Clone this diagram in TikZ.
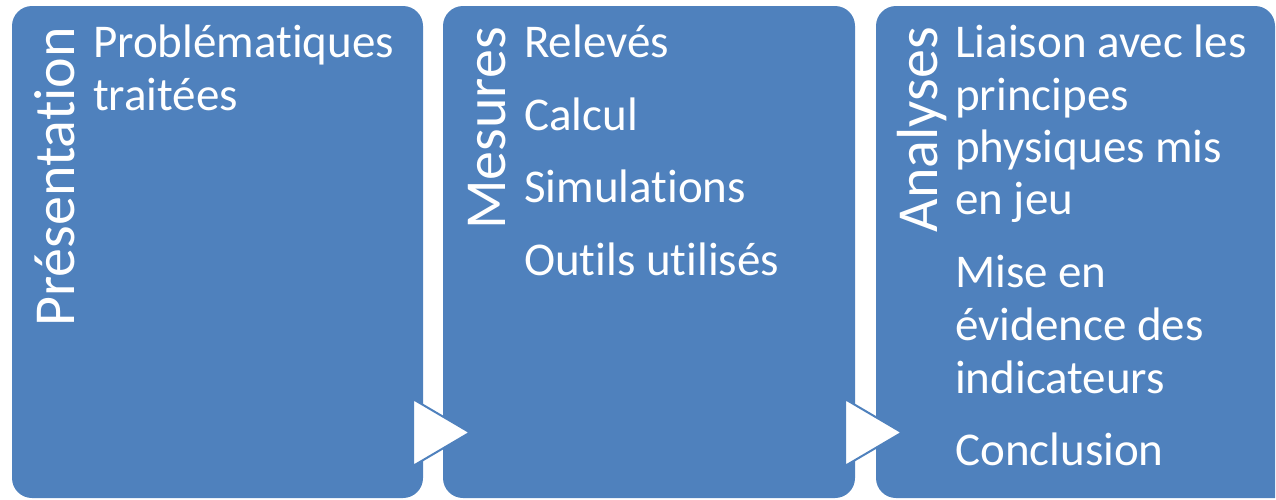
\documentclass[tikz,border=0pt]{standalone}
\usepackage{fontspec}
\setmainfont{Carlito}[Ligatures=NoCommon]
\usepackage{tikz}

\definecolor{phaseblue}{RGB}{79,129,189}
\tikzset{
  phase/.style={fill=phaseblue, rounded corners=20pt},
  phasetitle/.style={text=white, font=\fontsize{58}{70}\selectfont, rotate=90, anchor=base east, inner sep=0pt},
  phaseitem/.style={text=white, font=\fontsize{47}{53}\selectfont, anchor=base west, inner sep=0pt},
  chevron/.style={fill=white, draw=phaseblue, line width=2pt, line join=miter}
}

\begin{document}
\begin{tikzpicture}[x=1pt,y=-1pt]
    \useasboundingbox (0,0) rectangle (1276,499);
    % Boxes
    \fill[phase] (12,6) rectangle (423,498);
    \fill[phase] (443,6) rectangle (855,498);
    \fill[phase] (1275,498) -- (1275,6) -- (876,6) -- (876,498) -- (1275,498);
    % Arrows between boxes
    \filldraw[chevron] (413,399) -- (470,432.5) -- (413,466) -- cycle;
    \filldraw[chevron] (845,399) -- (902,432.5) -- (845,466) -- cycle;
    % Titles
    \node[phasetitle] (pres) at (74,27) {Présentation};
    \node[phasetitle] (mes) at (505,27) {Mesures};
    \node[phasetitle] (ana) at (937,27) {Analyses};
    % Items
    \foreach \txt/\y [count=\i] in {Problématiques/57, traitées/110}
        \node[phaseitem] (presitem\i) at (93,\y) {\txt};
    \foreach \txt/\y [count=\i] in {Relevés/57, Calcul/130, Simulations/202, Outils utilisés/275}
        \node[phaseitem] (mesitem\i) at (524,\y) {\txt};
    \foreach \txt/\y [count=\i] in {Liaison avec les/57, principes/110, physiques mis/162, en jeu/214,
                                    Mise en/287, évidence des/340, indicateurs/393, Conclusion/465}
        \node[phaseitem] (anaitem\i) at (955,\y) {\txt};
\end{tikzpicture}
\end{document}
